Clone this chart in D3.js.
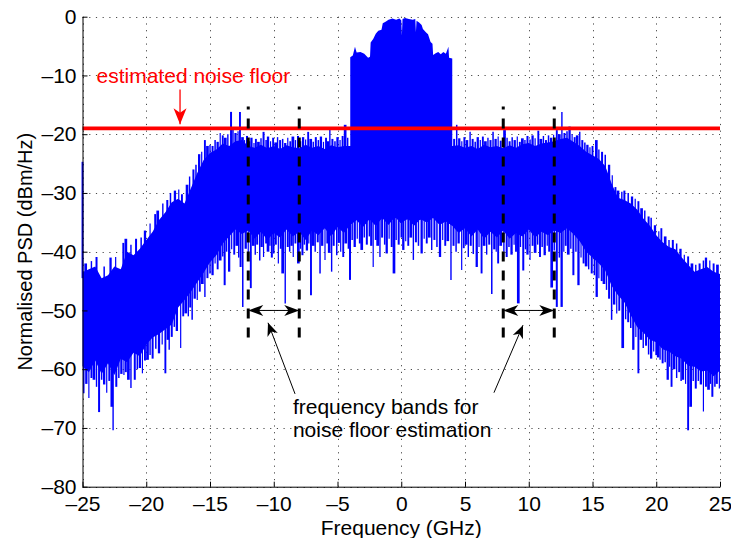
<!DOCTYPE html>
<html>
<head>
<meta charset="utf-8">
<script src="https://cdn.jsdelivr.net/npm/d3@7"></script>
<style>
  body { margin: 0; background: #fff; }
  text { font-family: "Liberation Sans", Arial, Helvetica, sans-serif; }
</style>
</head>
<body>
<svg id="chart" width="731" height="538"></svg>
<script>
// ---- Spectrum data (frequency in GHz, level in dBm/Hz) ----
const freqGrid = [
  -25, -24.5, -24, -23.5, -23, -22.5, -22, -21.5, -21, -20.5,
  -20, -19.5, -19, -18.5, -18, -17.5, -17, -16.5, -16, -15.5,
  -15, -14.5, -14, -13.5, -13, -12.5, -12, -11.5, -11, -10.5,
  -10, -9.5, -9, -8.5, -8, -7.5, -7, -6.5, -6, -5.5,
  -5, -4.5, -4, -3.5, -3, -2.5, -2, -1.5, -1, -0.5,
  0, 0.5, 1, 1.5, 2, 2.5, 3, 3.5, 4, 4.5,
  5, 5.5, 6, 6.5, 7, 7.5, 8, 8.5, 9, 9.5,
  10, 10.5, 11, 11.5, 12, 12.5, 13, 13.5, 14, 14.5,
  15, 15.5, 16, 16.5, 17, 17.5, 18, 18.5, 19, 19.5,
  20, 20.5, 21, 21.5, 22, 22.5, 23, 23.5, 24, 24.5, 25
];
// upper edge of the dense part of the noise trace
const upperEnv = [
  -43.5, -43.0, -42.5, -44.5, -44.0, -42.5, -43.0, -40.0, -40.6, -39.5,
  -38.0, -36.6, -34.6, -33.3, -31.6, -31.0, -31.8, -29.2, -26.6, -24.4,
  -23.2, -22.6, -21.6, -22.0, -21.2, -21.0, -22.0, -22.3, -21.8, -22.4,
  -22.0, -22.5, -21.9, -22.2, -22.4, -21.8, -22.3, -22.0, -22.5, -21.9,
  -22.2, -22.0, -22.0, -22.0, -22.0, -22.0, -22.0, -22.0, -22.0, -22.0,
  -22.0, -22.0, -22.0, -22.0, -22.0, -22.0, -22.0, -22.0, -22.0, -21.9,
  -22.3, -22.0, -22.5, -21.8, -22.2, -22.0, -22.4, -21.9, -22.3, -21.7,
  -21.5, -22.0, -21.6, -21.4, -21.2, -20.8, -20.6, -21.3, -22.0, -23.0,
  -23.6, -24.2, -25.4, -28.4, -30.8, -31.2, -31.8, -32.8, -34.4, -35.6,
  -37.2, -38.4, -39.2, -39.6, -41.0, -42.2, -43.4, -43.0, -42.6, -43.4, -43.8
];
// lower edge of the dense part of the noise trace
const lowerEnv = [
  -59.5, -60.5, -58.5, -60.8, -59.0, -61.0, -58.2, -58.8, -57.2, -57.8,
  -55.8, -54.6, -54.0, -53.2, -52.4, -49.5, -48.2, -46.8, -45.2, -43.6,
  -41.8, -40.6, -38.6, -37.4, -36.2, -37.0, -36.4, -37.8, -36.6, -38.0,
  -36.8, -37.6, -36.2, -37.4, -36.6, -38.0, -36.4, -37.2, -36.0, -37.4,
  -35.8, -36.8, -35.4, -34.6, -35.8, -34.4, -35.6, -34.2, -35.4, -34.0,
  -35.2, -34.2, -35.6, -34.4, -35.0, -34.2, -35.4, -34.8, -35.6, -36.8,
  -36.0, -37.4, -36.2, -37.8, -36.6, -37.6, -36.4, -37.8, -36.8, -37.4,
  -36.2, -37.6, -36.6, -37.2, -36.4, -36.8, -36.0, -37.0, -38.2, -40.0,
  -41.0, -42.0, -43.2, -45.8, -47.4, -48.6, -50.8, -52.8, -53.8, -55.0,
  -55.4, -56.6, -57.0, -57.8, -58.2, -59.4, -59.6, -60.4, -60.2, -61.2, -60.2
];
// signal band
const bandFreq = [
  -4.0, -3.8, -3.63, -3.5, -3.2, -2.9, -2.6, -2.45, -2.4, -2.2,
  -2.0, -1.8, -1.55, -1.45, -1.2, -1.0, -0.7, -0.4, -0.15, 0.0,
  0.05, 0.1, 0.3, 0.6, 0.9, 1.1, 1.15, 1.2, 1.4, 1.6,
  1.7, 1.95, 2.1, 2.3, 2.45, 2.5, 2.7, 2.9, 3.1, 3.3,
  3.5, 3.7, 3.75, 4.0
];
const bandTop = [
  -6.9, -6.6, -5.1, -6.1, -6.0, -6.3, -7.0, -6.8, -4.4, -3.8,
  -2.9, -2.4, -2.2, -1.1, -0.8, -0.5, -0.3, -0.5, -0.3, -0.6,
  -3.2, -0.4, -0.2, -0.4, -0.5, -0.4, -2.6, -0.7, -1.0, -1.4,
  -2.1, -2.7, -3.0, -4.3, -4.6, -6.5, -6.2, -6.0, -6.4, -6.0,
  -6.3, -5.1, -7.0, -7.1
];
// downward excursions of the trace below the dense part
const dipFreq = [
  -24.9, -24.7, -24.5, -24.3, -24.1, -23.9, -23.7, -23.5, -23.3, -23.1,
  -22.9, -22.7, -22.6, -22.35, -22.15, -21.95, -21.75, -21.6, -21.4, -21.2,
  -20.9, -20.7, -20.5, -20.3, -20.1, -19.9, -19.7, -19.5, -19.25, -19.0,
  -18.75, -18.5, -18.3, -18.2, -18.0, -17.8, -17.6, -17.3, -17.1, -16.9,
  -16.7, -16.55, -16.4, -16.2, -16.0, -15.8, -15.6, -15.4, -15.2, -15.0,
  -14.8, -14.6, -14.4, -14.2, -14.0, -13.85, -13.7, -13.5, -13.3, -13.1,
  -12.9, -12.75, -12.6, -12.43, -12.2, -12.0, -11.8, -11.6, -11.45, -11.3,
  -11.1, -10.95, -10.8, -10.6, -10.45, -10.3, -10.15, -10.0, -9.85, -9.64,
  -9.45, -9.3, -9.1, -8.9, -8.75, -8.6, -8.47, -8.3, -8.07, -7.9,
  -7.75, -7.6, -7.4, -7.25, -7.08, -6.9, -6.75, -6.55, -6.37, -6.2,
  -5.98, -5.8, -5.65, -5.46, -5.3, -5.06, -4.9, -4.75, -4.55, -4.35,
  -4.15, -4.02, -3.85, -3.65, -3.45, -3.25, -3.1, -2.9, -2.7, -2.5,
  -2.35, -2.2, -2.0, -1.85, -1.67, -1.5, -1.3, -1.14, -0.95, -0.75,
  -0.57, -0.4, -0.2, 0.0, 0.16, 0.35, 0.55, 0.75, 0.95, 1.15,
  1.35, 1.6, 1.8, 2.0, 2.2, 2.39, 2.6, 2.8, 3.04, 3.25,
  3.45, 3.65, 3.9, 4.1, 4.3, 4.5, 4.74, 4.9, 5.1, 5.26,
  5.45, 5.65, 5.92, 6.1, 6.3, 6.5, 6.7, 6.9, 7.1, 7.3,
  7.45, 7.6, 7.8, 8.05, 8.27, 8.45, 8.65, 8.85, 9.0, 9.18,
  9.35, 9.57, 9.75, 9.9, 10.1, 10.3, 10.5, 10.7, 10.88, 11.05,
  11.25, 11.45, 11.6, 11.8, 12.0, 12.2, 12.4, 12.58, 12.75, 12.9,
  13.1, 13.3, 13.5, 13.7, 13.9, 14.1, 14.3, 14.5, 14.7, 14.94,
  15.15, 15.33, 15.5, 15.72, 15.9, 16.1, 16.3, 16.5, 16.7, 16.9,
  17.1, 17.37, 17.6, 17.8, 18.0, 18.2, 18.4, 18.6, 18.8, 18.98,
  19.2, 19.4, 19.6, 19.8, 20.0, 20.15, 20.3, 20.5, 20.7, 20.9,
  21.05, 21.2, 21.4, 21.6, 21.8, 21.95, 22.1, 22.3, 22.5, 22.7,
  22.9, 23.1, 23.3, 23.5, 23.7, 23.9, 24.1, 24.25, 24.4, 24.6,
  24.74, 24.95
];
const dipLevel = [
  -64.1, -62.5, -64.9, -61.5, -61.8, -63.0, -67.3, -61.8, -62.6, -64.0,
  -62.0, -66.4, -70.4, -63.0, -61.5, -60.8, -61.0, -60.5, -61.8, -63.2,
  -61.8, -60.0, -59.8, -60.7, -58.5, -58.4, -57.6, -58.2, -56.5, -57.3,
  -55.8, -60.7, -55.0, -56.7, -54.5, -52.8, -53.5, -56.4, -51.0, -50.5,
  -51.0, -49.5, -51.6, -48.0, -48.2, -46.8, -45.5, -47.7, -44.5, -43.7,
  -44.0, -42.0, -43.0, -41.5, -40.8, -45.7, -40.0, -43.4, -39.6, -40.5,
  -39.0, -41.0, -42.6, -49.4, -39.5, -40.2, -46.2, -39.0, -40.5, -38.8,
  -41.5, -39.2, -40.9, -38.6, -40.0, -39.0, -41.0, -40.3, -38.8, -42.0,
  -39.5, -43.7, -48.8, -39.2, -40.0, -39.0, -40.9, -38.6, -42.0, -39.5,
  -40.6, -38.8, -39.8, -38.6, -47.4, -39.0, -40.0, -38.4, -43.7, -39.0,
  -41.4, -38.6, -40.2, -43.4, -39.0, -40.6, -38.5, -40.0, -40.9, -38.6,
  -39.5, -44.8, -38.0, -39.2, -37.8, -38.6, -39.7, -37.6, -38.8, -37.4,
  -39.0, -42.6, -38.0, -39.0, -40.9, -37.6, -38.8, -40.3, -37.8, -39.2,
  -43.7, -38.0, -38.8, -37.6, -39.7, -38.2, -39.0, -37.6, -41.4, -38.4,
  -39.0, -40.3, -37.8, -38.6, -37.6, -39.7, -38.0, -39.2, -40.9, -38.0,
  -39.0, -38.2, -44.8, -39.0, -40.0, -38.6, -43.1, -39.4, -38.8, -40.9,
  -39.0, -40.4, -42.6, -39.2, -43.7, -39.0, -40.5, -38.8, -47.2, -39.6,
  -40.0, -42.0, -39.0, -40.0, -40.9, -39.2, -40.5, -38.8, -40.0, -48.8,
  -39.2, -43.2, -39.6, -40.5, -41.4, -39.0, -40.2, -38.8, -40.9, -39.2,
  -40.6, -39.0, -40.0, -46.1, -39.8, -49.4, -41.0, -49.4, -40.0, -39.0,
  -40.5, -39.5, -44.0, -40.0, -45.7, -41.0, -42.0, -42.5, -43.0, -43.7,
  -44.0, -47.7, -44.5, -45.0, -45.5, -46.5, -48.0, -51.6, -49.0, -50.5,
  -50.0, -56.4, -51.5, -52.0, -53.0, -56.7, -54.5, -60.7, -55.0, -56.4,
  -56.0, -57.5, -58.2, -57.0, -57.6, -58.0, -58.4, -59.0, -58.8, -61.8,
  -59.6, -63.0, -60.0, -61.5, -60.5, -62.0, -61.8, -62.5, -70.4, -66.4,
  -62.0, -63.3, -62.0, -62.6, -67.2, -63.0, -63.5, -62.5, -64.7, -63.0,
  -62.5, -63.3
];
// upward excursions of the trace above the dense part
const peakFreq = [
  -25.0, -24.75, -24.3, -23.9, -23.3, -22.8, -22.4, -21.8, -21.6, -21.2,
  -20.8, -20.4, -20.1, -19.7, -19.3, -19.1, -18.7, -18.35, -18.1, -17.75,
  -17.45, -17.2, -16.8, -16.6, -16.3, -16.1, -15.85, -15.65, -15.4, -15.2,
  -15.0, -14.8, -14.6, -14.4, -14.2, -14.0, -13.8, -13.6, -13.35, -13.2,
  -13.0, -12.8, -12.65, -12.45, -12.3, -12.1, -11.9, -11.75, -11.55, -11.4,
  -11.2, -11.0, -10.8, -10.6, -10.45, -10.25, -10.05, -9.85, -9.7, -9.5,
  -9.3, -9.1, -8.9, -8.7, -8.5, -8.3, -8.1, -7.9, -7.7, -7.5,
  -7.3, -7.1, -6.9, -6.7, -6.5, -6.3, -6.1, -5.9, -5.75, -5.6,
  -5.4, -5.2, -5.0, -4.8, -4.6, -4.4, -4.2, 4.15, 4.35, 4.55,
  4.75, 4.95, 5.15, 5.4, 5.6, 5.8, 6.0, 6.2, 6.4, 6.6,
  6.8, 7.0, 7.2, 7.4, 7.6, 7.8, 8.1, 8.3, 8.5, 8.7,
  8.9, 9.1, 9.3, 9.5, 9.7, 9.9, 10.1, 10.3, 10.5, 10.75,
  10.95, 11.15, 11.35, 11.55, 11.75, 11.95, 12.2, 12.4, 12.6, 12.8,
  13.0, 13.2, 13.4, 13.6, 13.8, 14.0, 14.2, 14.4, 14.6, 14.8,
  15.0, 15.3, 15.5, 15.75, 16.0, 16.3, 16.55, 16.8, 17.0, 17.3,
  17.5, 17.8, 18.1, 18.35, 18.6, 18.85, 19.1, 19.4, 19.6, 19.9,
  20.2, 20.4, 20.7, 21.0, 21.3, 21.6, 21.9, 22.2, 22.5, 22.8,
  23.1, 23.4, 23.7, 23.9, 24.2, 24.5, 24.8
];
const peakLevel = [
  -24.7, -42.0, -41.6, -40.9, -42.5, -41.0, -40.9, -38.5, -37.8, -38.8,
  -37.8, -37.6, -36.4, -35.2, -33.6, -33.0, -31.8, -31.2, -30.0, -29.6,
  -29.4, -30.2, -28.6, -27.2, -26.0, -25.2, -23.4, -23.0, -21.0, -22.0,
  -21.8, -22.0, -21.0, -21.3, -19.8, -20.2, -20.6, -20.0, -16.2, -18.8,
  -19.8, -19.5, -16.2, -20.5, -21.0, -20.3, -21.2, -20.6, -21.5, -20.8,
  -21.3, -20.7, -19.6, -21.0, -20.4, -21.2, -20.6, -21.4, -20.5, -21.0,
  -20.8, -21.5, -20.6, -21.2, -20.4, -21.0, -20.3, -21.2, -20.5, -20.9,
  -19.6, -20.8, -21.3, -20.5, -21.0, -20.4, -21.3, -20.6, -21.2, -19.3,
  -20.8, -21.2, -20.5, -21.0, -20.3, -18.4, -20.6, -20.8, -18.4, -20.7,
  -21.2, -20.5, -21.0, -19.6, -20.8, -21.3, -20.5, -21.0, -20.4, -21.2,
  -20.6, -21.0, -19.6, -20.8, -20.4, -21.1, -19.3, -20.6, -21.2, -20.5,
  -21.0, -20.4, -21.3, -20.7, -21.0, -20.3, -20.9, -20.2, -20.7, -19.4,
  -20.8, -20.3, -21.0, -20.2, -20.6, -20.1, -19.3, -20.0, -16.2, -19.8,
  -19.5, -18.7, -20.0, -20.5, -20.2, -19.6, -21.0, -21.4, -21.8, -22.2,
  -22.0, -21.0, -22.6, -23.0, -23.5, -25.2, -27.0, -29.0, -29.6, -29.8,
  -29.6, -30.0, -30.6, -31.0, -31.4, -32.6, -33.0, -34.0, -34.2, -35.5,
  -36.5, -36.0, -37.4, -38.0, -38.0, -38.6, -39.5, -40.5, -40.8, -42.0,
  -42.2, -42.0, -41.5, -41.0, -41.5, -42.0, -42.2
];

const noiseFloorLevel = -19;                  // estimated noise floor
const estimationBands = [[-12, -8], [8, 12]];  // bands used for the estimate
const bandMarkerSpan = [-55, -15.3];           // vertical extent of band markers
const bandArrowLevel = -50;

const xTicks = [-25, -20, -15, -10, -5, 0, 5, 10, 15, 20, 25];
const yTicks = [-80, -70, -60, -50, -40, -30, -20, -10, 0];

// ---- Layout ----
const BLUE = "#0000ff", RED = "#ff0000";
const svg = d3.select("#chart");
const x = d3.scaleLinear().domain([-25, 25]).range([82.5, 720]);
const y = d3.scaleLinear().domain([-80, 0]).range([486.7, 16.7]);
const FONT = 21;
const fmt = d => (d < 0 ? "\u2013" + Math.abs(d) : String(d));
const spikeWidths = [1.5, 2.3, 1.2, 1.9, 2.7, 1.4, 2.0];

function interp(fs, vs, f) {
  const i = d3.bisectRight(fs, f);
  if (i <= 0) return vs[0];
  if (i >= fs.length) return vs[vs.length - 1];
  const t = (f - fs[i - 1]) / (fs[i] - fs[i - 1]);
  return vs[i - 1] + t * (vs[i] - vs[i - 1]);
}

// dotted grid
const grid = svg.append("g").attr("stroke", "#000").attr("stroke-width", 1)
  .attr("stroke-dasharray", "1.2,5.5").attr("opacity", 0.7);
grid.selectAll("line.v").data(xTicks).join("line").attr("class", "v")
  .attr("x1", d => Math.round(x(d)) + 0.5).attr("x2", d => Math.round(x(d)) + 0.5)
  .attr("y1", y(0)).attr("y2", y(-80));
grid.selectAll("line.h").data(yTicks).join("line").attr("class", "h")
  .attr("y1", d => Math.round(y(d)) + 0.5).attr("y2", d => Math.round(y(d)) + 0.5)
  .attr("x1", x(-25)).attr("x2", x(25));

// spectrum
const spec = svg.append("g");
const noise = freqGrid.map((f, i) => ({ f, hi: upperEnv[i], lo: lowerEnv[i] }));
spec.append("path").datum(noise)
  .attr("d", d3.area().x(d => x(d.f)).y0(d => y(d.lo)).y1(d => y(d.hi)))
  .attr("fill", BLUE);

const band = bandFreq.map((f, i) => ({ f, top: bandTop[i], base: interp(freqGrid, lowerEnv, f) }));
spec.append("path").datum(band)
  .attr("d", d3.area().x(d => x(d.f)).y0(d => y(d.base)).y1(d => y(d.top)))
  .attr("fill", BLUE);

const dips = dipFreq.map((f, i) => ({ f, i, v: dipLevel[i], base: interp(freqGrid, lowerEnv, f) + 1 }))
  .filter(d => d.v < d.base);
spec.selectAll("line.dip").data(dips).join("line").attr("class", "dip")
  .attr("x1", d => x(d.f)).attr("x2", d => x(d.f))
  .attr("y1", d => y(d.base)).attr("y2", d => y(d.v))
  .attr("stroke", BLUE).attr("stroke-width", d => spikeWidths[d.i % spikeWidths.length]);

const peaks = peakFreq.map((f, i) => ({ f, i, v: peakLevel[i], base: interp(freqGrid, upperEnv, f) - 1 }))
  .filter(d => d.v > d.base);
spec.selectAll("line.peak").data(peaks).join("line").attr("class", "peak")
  .attr("x1", d => x(d.f)).attr("x2", d => x(d.f))
  .attr("y1", d => y(d.base)).attr("y2", d => y(d.v))
  .attr("stroke", BLUE).attr("stroke-width", d => spikeWidths[(d.i + 3) % spikeWidths.length]);

// estimated noise floor
svg.append("line")
  .attr("x1", x(-25)).attr("x2", x(25))
  .attr("y1", y(noiseFloorLevel)).attr("y2", y(noiseFloorLevel))
  .attr("stroke", RED).attr("stroke-width", 3.6);

// arrowhead helper: tip point, tail point, length, half width
function arrowHead(g, tx, ty, fx, fy, len, hw, color) {
  const dx = tx - fx, dy = ty - fy, L = Math.hypot(dx, dy);
  const ux = dx / L, uy = dy / L, nx = -uy, ny = ux;
  const bx = tx - ux * len, by = ty - uy * len;
  const mx = tx - ux * len * 0.72, my = ty - uy * len * 0.72;
  g.append("path")
    .attr("d", `M${tx},${ty}L${bx + nx * hw},${by + ny * hw}L${mx},${my}L${bx - nx * hw},${by - ny * hw}Z`)
    .attr("fill", color);
}
function arrow(g, f0, v0, f1, v1, color, len, hw, sw) {
  const fx = x(f0), fy = y(v0), tx = x(f1), ty = y(v1);
  g.append("line").attr("x1", fx).attr("y1", fy).attr("x2", tx).attr("y2", ty)
    .attr("stroke", color).attr("stroke-width", sw);
  arrowHead(g, tx, ty, fx, fy, len, hw, color);
}

const ann = svg.append("g");
ann.append("text").attr("x", x(-23.9)).attr("y", y(-11.3))
  .attr("fill", RED).attr("font-size", FONT).text("estimated noise floor");
arrow(ann, -17.35, -12.4, -17.35, -18.3, RED, 16, 6.5, 1.3);

// band markers
estimationBands.forEach(([a, b]) => {
  [a, b].forEach(f => {
    ann.append("line")
      .attr("x1", x(f)).attr("x2", x(f))
      .attr("y1", y(bandMarkerSpan[1])).attr("y2", y(bandMarkerSpan[0]))
      .attr("stroke", "#000").attr("stroke-width", 3)
      .attr("stroke-dasharray", "10,9").attr("stroke-dashoffset", 7);
  });
  const xa = x(a), xb = x(b), yy = y(bandArrowLevel);
  ann.append("line").attr("x1", xa + 6).attr("x2", xb - 6).attr("y1", yy).attr("y2", yy)
    .attr("stroke", "#000").attr("stroke-width", 1);
  arrowHead(ann, xa, yy, xb, yy, 15, 5.5, "#000");
  arrowHead(ann, xb, yy, xa, yy, 15, 5.5, "#000");
});

arrow(ann, -8.33, -64.2, -10.45, -52.1, "#000", 13, 5.5, 1);
arrow(ann, 7.27, -64.0, 9.55, -52.5, "#000", 13, 5.5, 1);
const note = ann.append("text").attr("font-size", FONT).attr("fill", "#000");
note.append("tspan").attr("x", x(-8.5)).attr("y", y(-67.6)).text("frequency bands for");
note.append("tspan").attr("x", x(-8.5)).attr("y", y(-71.6)).text("noise floor estimation");

// axes
const ax = svg.append("g");
const yAxis = d3.axisLeft(y).tickValues(yTicks).tickFormat(fmt)
  .tickSizeInner(-5).tickSizeOuter(0).tickPadding(6);
const gy = ax.append("g").attr("transform", `translate(${x(-25)},0)`).call(yAxis);
const xAxis = d3.axisBottom(x).tickValues(xTicks).tickFormat(fmt)
  .tickSizeInner(-5).tickSizeOuter(0).tickPadding(9);
const gx = ax.append("g").attr("transform", `translate(0,${y(-80)})`).call(xAxis);
[gx, gy].forEach(g => {
  g.selectAll("text").attr("font-size", FONT).attr("fill", "#000")
    .attr("font-family", '"Liberation Sans", Arial, Helvetica, sans-serif');
  g.selectAll("path, line").attr("stroke", "#000").attr("stroke-width", 1);
});

svg.append("text").attr("x", (x(-25) + x(25)) / 2).attr("y", 535)
  .attr("text-anchor", "middle").attr("font-size", FONT).text("Frequency (GHz)");
svg.append("text")
  .attr("transform", `translate(32,${(y(0) + y(-80)) / 2}) rotate(-90)`)
  .attr("text-anchor", "middle").attr("font-size", 20).text("Normalised PSD (dBm/Hz)");
</script>
</body>
</html>
